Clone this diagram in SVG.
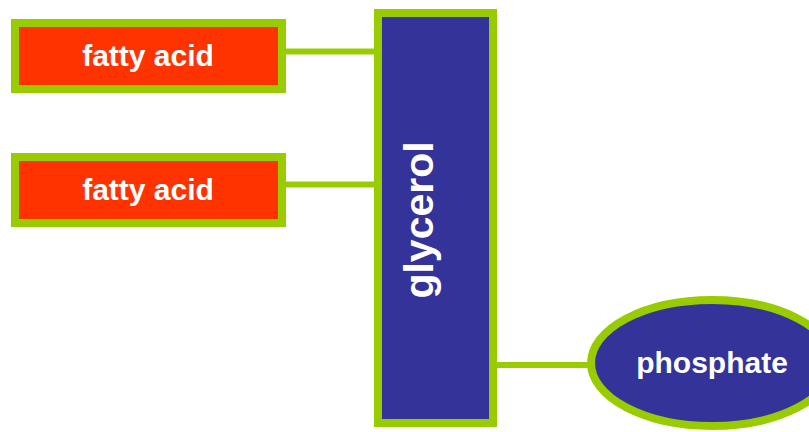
<svg xmlns="http://www.w3.org/2000/svg" width="809" height="432" viewBox="0 0 809 432">
<style>
.box{fill:#ff3300;stroke:#99cc00;stroke-width:8}
.blue{fill:#333399;stroke:#99cc00;stroke-width:8}
.con{stroke:#99cc00;stroke-width:6;fill:none}
.lbl{font-family:"Liberation Sans",Arial,sans-serif;font-weight:bold;fill:#ffffff;text-anchor:middle}
</style>
<rect width="809" height="432" fill="#ffffff"/>
<g id="connectors">
<line class="con" x1="286" y1="51.5" x2="378" y2="51.5"/>
<line class="con" x1="286" y1="184.5" x2="378" y2="184.5"/>
<line class="con" x1="493" y1="365" x2="590" y2="365"/>
</g>
<g id="fatty1">
<rect class="box" x="15" y="23" width="267" height="66"/>
<text class="lbl" x="148" y="66" font-size="30">fatty acid</text>
</g>
<g id="fatty2">
<rect class="box" x="15" y="157" width="267" height="66"/>
<text class="lbl" x="148" y="200" font-size="30">fatty acid</text>
</g>
<g id="glycerol">
<rect class="blue" x="378" y="13" width="115" height="410"/>
<text class="lbl" transform="translate(432.5,220) rotate(-90)" font-size="41">glycerol</text>
</g>
<g id="phosphate">
<ellipse class="blue" cx="712" cy="363" rx="121" ry="63"/>
<text class="lbl" x="712" y="373" font-size="30">phosphate</text>
</g>
</svg>
